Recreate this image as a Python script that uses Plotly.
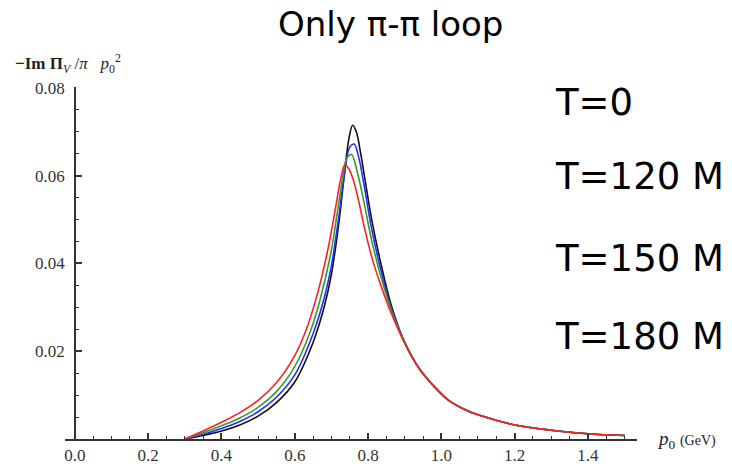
import plotly.graph_objects as go

# data
x_black = [0.30, 0.35, 0.40, 0.45, 0.50, 0.55, 0.60, 0.65, 0.68, 0.70, 0.72, 0.735, 0.748, 0.758, 0.768, 0.78, 0.79, 0.81, 0.835, 0.865, 0.90, 0.94, 0.98, 1.02, 1.07, 1.12, 1.20, 1.30, 1.40, 1.50]
y_black = [0.0, 0.0008, 0.0018, 0.0032, 0.0052, 0.0083, 0.0130, 0.0220, 0.0300, 0.0375, 0.0490, 0.0600, 0.0685, 0.0715, 0.0700, 0.0650, 0.0600, 0.0500, 0.0400, 0.0300, 0.0220, 0.0160, 0.0120, 0.0088, 0.0065, 0.0050, 0.0032, 0.0020, 0.0012, 0.0008]

x_blue = [0.30, 0.35, 0.40, 0.45, 0.50, 0.55, 0.60, 0.65, 0.68, 0.70, 0.72, 0.735, 0.75, 0.762, 0.775, 0.79, 0.81, 0.835, 0.865, 0.90, 0.94, 0.98, 1.02, 1.07, 1.12, 1.20, 1.30, 1.40, 1.50]
y_blue = [0.0, 0.0011, 0.0024, 0.0040, 0.0062, 0.0095, 0.0146, 0.0240, 0.0320, 0.0395, 0.0505, 0.0600, 0.0665, 0.0672, 0.0640, 0.0575, 0.0478, 0.0385, 0.0294, 0.0220, 0.0160, 0.0120, 0.0088, 0.0065, 0.0050, 0.0032, 0.0020, 0.0012, 0.0008]

x_green = [0.30, 0.35, 0.40, 0.45, 0.50, 0.55, 0.60, 0.643, 0.67, 0.70, 0.715, 0.73, 0.742, 0.755, 0.77, 0.79, 0.81, 0.835, 0.865, 0.90, 0.94, 0.98, 1.02, 1.07, 1.12, 1.20, 1.30, 1.40, 1.50]
y_green = [0.0, 0.0014, 0.0030, 0.0048, 0.0072, 0.0108, 0.0165, 0.0246, 0.0320, 0.0430, 0.0510, 0.0590, 0.0640, 0.0648, 0.0610, 0.0535, 0.0452, 0.0370, 0.0290, 0.0220, 0.0160, 0.0120, 0.0088, 0.0065, 0.0050, 0.0032, 0.0020, 0.0012, 0.0008]

x_red = [0.30, 0.35, 0.40, 0.45, 0.50, 0.55, 0.60, 0.63, 0.66, 0.69, 0.71, 0.725, 0.737, 0.748, 0.76, 0.775, 0.79, 0.81, 0.835, 0.865, 0.90, 0.94, 0.98, 1.02, 1.07, 1.12, 1.20, 1.30, 1.40, 1.50]
y_red = [0.0, 0.0018, 0.0038, 0.0060, 0.0088, 0.0128, 0.0190, 0.0246, 0.0325, 0.0430, 0.0520, 0.0590, 0.0625, 0.0615, 0.0590, 0.0540, 0.0482, 0.0415, 0.0350, 0.0283, 0.0218, 0.0160, 0.0120, 0.0088, 0.0065, 0.0050, 0.0032, 0.0020, 0.0012, 0.0008]

x_ticks = [0.0, 0.2, 0.4, 0.6, 0.8, 1.0, 1.2, 1.4]
x_ticklabels = ["0.0", "0.2", "0.4", "0.6", "0.8", "1.0", "1.2", "1.4"]
y_ticks = [0.02, 0.04, 0.06, 0.08]
y_ticklabels = ["0.02", "0.04", "0.06", "0.08"]
temp_labels = ["T=0", "T=120 M", "T=150 M", "T=180 M"]

fig = go.Figure()
for xs, ys, col in [(x_black, y_black, "#111111"), (x_blue, y_blue, "#2a2aff"),
                    (x_green, y_green, "#2ea02e"), (x_red, y_red, "#ff2020")]:
    fig.add_trace(go.Scatter(x=xs, y=ys, mode="lines",
                             line=dict(color=col, width=1.6, shape="spline", smoothing=1.0),
                             showlegend=False, hoverinfo="skip"))

W, H = 732, 469
ml, mr, mt, mb = 65, 95, 87, 30
pw = W - ml - mr
ph = H - mt - mb
xr = [-0.027, 1.534]
ypos = (0 - xr[0]) / (xr[1] - xr[0])

serif = "Liberation Serif"
sans = "DejaVu Sans"
fig.update_layout(
    width=W, height=H,
    margin=dict(l=ml, r=mr, t=mt, b=mb, autoexpand=False),
    paper_bgcolor="white", plot_bgcolor="white",
    xaxis=dict(range=xr, showgrid=False, zeroline=False, showline=True, automargin=False,
               linecolor="#333333", linewidth=1.6,
               tickvals=x_ticks, ticktext=x_ticklabels, ticks="inside",
               ticklen=6, tickwidth=1.5, tickcolor="#333333", ticklabelstandoff=0,
               minor=dict(dtick=0.05, tick0=0, ticks="inside", ticklen=3, tickwidth=1.2, tickcolor="#333333"),
               tickfont=dict(family=serif, size=17, color="#333333")),
    yaxis=dict(range=[0, 0.0802], showgrid=False, zeroline=False, showline=True, automargin=False,
               anchor="free", position=ypos,
               linecolor="#333333", linewidth=1.6,
               tickvals=y_ticks, ticktext=y_ticklabels, ticks="inside",
               ticklen=6, tickwidth=1.5, tickcolor="#333333", ticklabelstandoff=6,
               minor=dict(dtick=0.005, tick0=0, ticks="inside", ticklen=3, tickwidth=1.2, tickcolor="#333333"),
               tickfont=dict(family=serif, size=17, color="#333333")),
)

fig.add_annotation(text="Only π-π loop", xref="paper", yref="paper",
                   x=(390 - ml) / pw, y=1 + (mt - 24) / ph, xanchor="center", yanchor="middle",
                   showarrow=False, font=dict(family=sans, size=34, color="black"))

fig.add_annotation(text="<b>−Im Π</b><sub><i>V</i></sub> /<i>π</i>   <i>p</i><sub>0</sub><sup>2</sup>",
                   xref="paper", yref="paper", x=(13 - ml) / pw, y=1 + (mt - 64) / ph,
                   xanchor="left", yanchor="middle", showarrow=False,
                   font=dict(family=serif, size=17, color="#222222"))

fig.add_annotation(text="<i>p</i><sub>0</sub> <span style='font-size:14px'>(GeV)</span>",
                   xref="paper", yref="paper", x=(655 - ml) / pw, y=-(440 - (H - mb)) / ph,
                   xanchor="left", yanchor="middle", showarrow=False,
                   font=dict(family=serif, size=19, color="#222222"))

label_y = [103, 176, 258, 336]
for txt, py in zip(temp_labels, label_y):
    fig.add_annotation(text=txt, xref="paper", yref="paper",
                       x=(553 - ml) / pw, y=1 - (py - mt) / ph,
                       xanchor="left", yanchor="middle", showarrow=False,
                       font=dict(family=sans, size=37, color="black"))

fig.write_html("out.html")
